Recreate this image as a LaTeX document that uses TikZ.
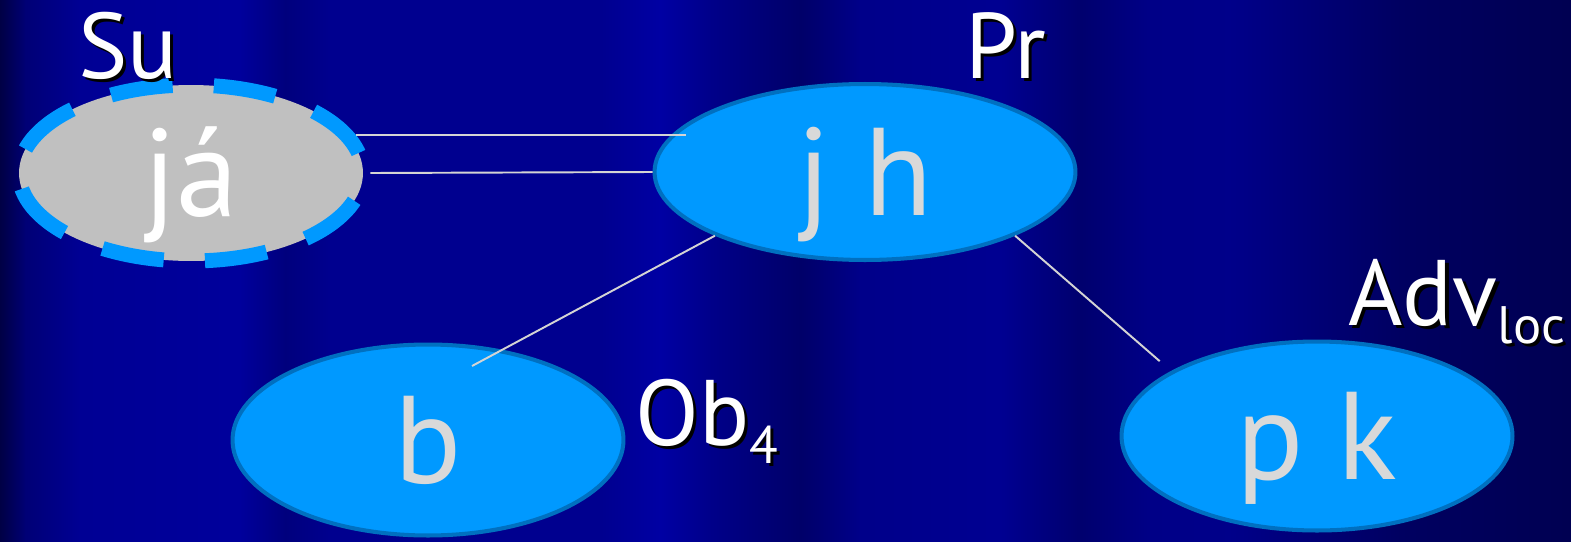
\documentclass[tikz,border=0pt]{standalone}
\usepackage{fontspec}
\setmainfont{PT Sans}
\usetikzlibrary{shapes.geometric}

\definecolor{nodeblue}{HTML}{0099FF}
\definecolor{rimblue}{HTML}{0070C0}
\definecolor{wordgray}{HTML}{D9D9D9}
\definecolor{linkgray}{HTML}{D4D4D4}
\definecolor{subjgray}{HTML}{C0C0C0}

\newcommand\wordsize{\fontsize{71pt}{76pt}\selectfont}
\newcommand\rolesize{\fontsize{53pt}{60pt}\selectfont}
\newcommand\lowsub[1]{\raisebox{-10.5pt}{\fontsize{30pt}{32pt}\selectfont #1}}
\newcommand\shadowed[1]{\makebox[0pt][l]{\hspace{1.8pt}\raisebox{-1.8pt}{\color{black}#1}}#1}

\begin{document}
\begin{tikzpicture}[x=0.02cm,y=-0.02cm]
  \tikzstyle{word}=[ellipse,inner sep=0pt,text height=50pt,text depth=0pt,font=\wordsize,text=wordgray]
  \tikzstyle{filled word}=[word,fill=nodeblue,draw=rimblue,line width=2.3pt]
  \tikzstyle{role}=[inner sep=0pt,anchor=base west,font=\rolesize,text=white]
  \tikzstyle{link}=[draw=linkgray,line width=1.1pt]

  \useasboundingbox (0,0) rectangle (1571,541);
  % striped backdrop
  \foreach \xa/\pa/\xb/\pb in {0/27/25/46, 25/46/80/58, 80/58/240/61, 240/61/285/49,
      285/49/330/56, 330/56/600/56, 600/56/660/64, 660/64/710/54, 710/54/800/41,
      800/41/860/54, 860/54/1000/57, 1000/57/1080/43, 1080/43/1150/53,
      1150/53/1230/54, 1230/54/1400/38, 1400/38/1571/32}
    \shade[left color=blue!\pa!black,right color=blue!\pb!black] (\xa,0) rectangle (\xb+1,541);

  \node[word,fill=subjgray,draw=nodeblue,line width=8.5pt,dash pattern=on 35.5pt off 23.5pt,
        dash phase=47.25pt,text=white,minimum width=6.88cm,minimum height=3.52cm] (ja) at (191,173) {já};
  \node[filled word,minimum width=8.42cm,minimum height=3.52cm] (jh) at (865,172) {j h};
  \node[filled word,minimum width=7.82cm,minimum height=3.82cm] (b)  at (428,440) {b};
  \node[filled word,minimum width=7.82cm,minimum height=3.78cm] (pk) at (1317,436) {p k};

  \coordinate (bin) at ([shift={(44,-74)}]b.center);

  \draw[link,shorten >=-0.22cm] (ja.13) -- (ja.13 -| jh.168);
  \draw[link] (ja.east) -- (jh.west);
  \draw[link] (jh.203) -- (bin);
  \draw[link,shorten >=0.3cm] (jh.337) -- (pk.156);

  \node[role] (su)  at (78,78)    {\shadowed{Su}};
  \node[role] (pr)  at (965,78)   {\shadowed{Pr}};
  \node[role] (ob)  at (635,445)  {\shadowed{Ob\lowsub{4}}};
  \node[role] (adv) at (1348,325) {\shadowed{Adv\lowsub{loc}}};
\end{tikzpicture}
\end{document}
